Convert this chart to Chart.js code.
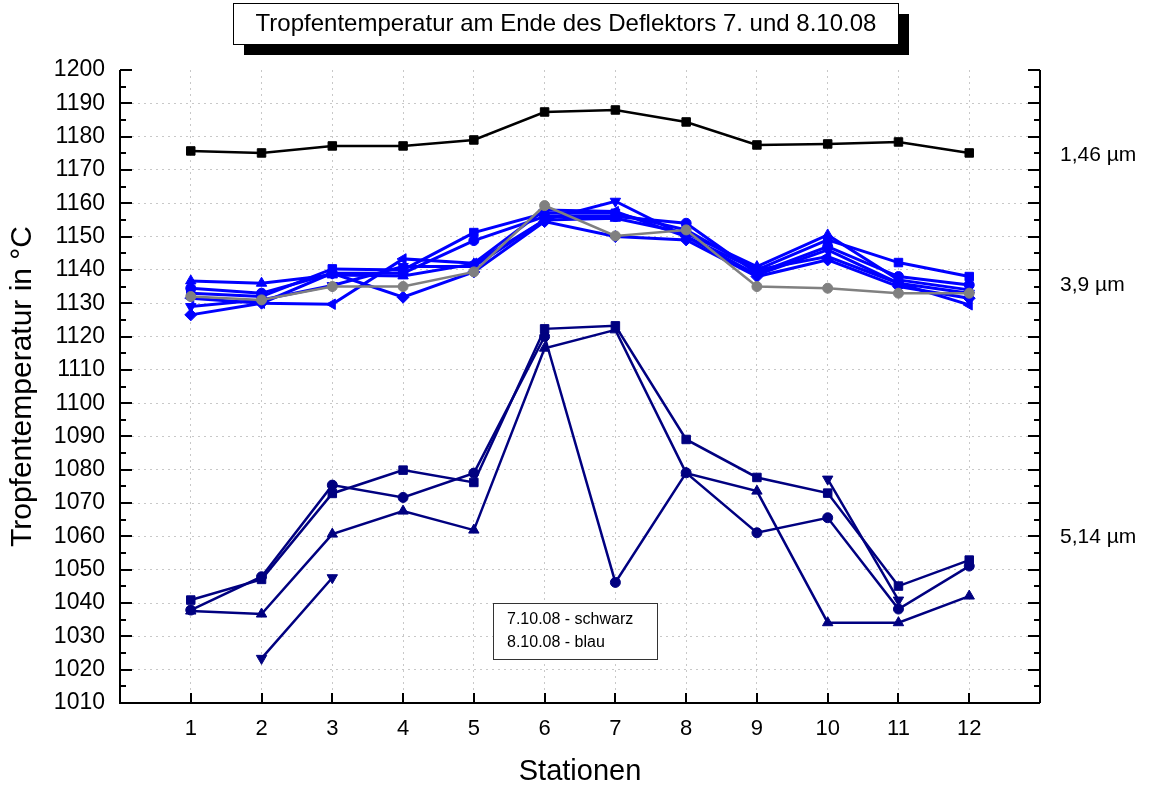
<!DOCTYPE html>
<html>
<head>
<meta charset="utf-8">
<script src="https://cdn.jsdelivr.net/npm/chart.js@4.4.1/dist/chart.umd.min.js"></script>
<style>
  html, body { margin: 0; padding: 0; background: #fff; }
  #wrap { width: 1159px; height: 789px; }
</style>
</head>
<body>
<div id="wrap"><canvas id="chart" width="1159" height="789"></canvas></div>
<script>
// Stationen 1..12
const stations = [1, 2, 3, 4, 5, 6, 7, 8, 9, 10, 11, 12];

// 7.10.08 (schwarz / grau)
const black146 = [1175.7, 1175.1, 1177.2, 1177.2, 1179.0, 1187.4, 1188.0, 1184.4, 1177.5, 1177.8, 1178.4, 1175.1];
const gray39   = [1132, 1131, 1135, 1135, 1139.4, 1159.3, 1150.2, 1152, 1135, 1134.5, 1133, 1133];

// 8.10.08, 3,9 µm (blau)
const blueSquare   = [1133, 1132, 1140.3, 1140, 1151.2, 1157, 1157, 1152, 1140, 1149, 1142.2, 1138];
const blueCircle   = [1134.5, 1133, 1139, 1139, 1148.8, 1156, 1156, 1154, 1139, 1147, 1138, 1135.5];
const blueUp       = [1136.7, 1136, 1138.5, 1138.2, 1141.8, 1155, 1155.5, 1151, 1141, 1150.5, 1137, 1134];
const blueDown     = [1129, 1131, 1135.3, 1141, 1141, 1155, 1160.6, 1150, 1138.5, 1146, 1136, 1133];
const blueDiamond  = [1126.5, 1130, 1139, 1131.8, 1139.4, 1154.5, 1150, 1149, 1138, 1143, 1135, 1131.5];
const blueLeft     = [1131.5, 1130, 1129.7, 1143.3, 1142, 1158, 1157.5, 1150, 1140, 1144, 1136, 1129.5];

// 8.10.08, 5,14 µm (dunkelblau)
const navySquare = [1040.9, 1047.1, 1072.9, 1079.9, 1076.2, 1122.3, 1123.2, 1089.1, 1077.7, 1073.0, 1045.1, 1052.9];
const navyCircle = [1037.9, 1047.9, 1075.4, 1071.7, 1079.0, 1120.0, 1046.2, 1079.1, 1061.1, 1065.6, 1038.2, 1051.1];
const navyUp     = [1037.6, 1036.7, 1060.7, 1067.6, 1061.9, 1116.5, 1122.0, 1079.0, 1073.6, 1034.1, 1034.1, 1042.1];
const navyDown   = [null, 1023.4, 1047.6, null, null, null, null, null, null, 1077.2, 1040.9, null];

// Beschriftungen rechts
const sizeLabels = ['1,46 µm', '3,9 µm', '5,14 µm'];
const sizeLabelValues = [1174.5, 1135.5, 1059.8];

const FONT = 'Liberation Sans, Arial, sans-serif';

function pts(values) {
  return stations.map((s, i) => ({ x: s, y: values[i] }));
}

function series(values, color, style, rotation, width, radius) {
  return {
    data: pts(values),
    borderColor: color,
    backgroundColor: color,
    borderWidth: width,
    pointStyle: style,
    rotation: rotation,
    pointRadius: radius,
    pointBorderWidth: 1,
    showLine: true,
    spanGaps: false,
    tension: 0
  };
}

const NAVY = '#000080';
const BLUE = '#0000ff';
const GRAY = '#808080';

const datasets = [
  series(navySquare, NAVY, 'rect', 0, 2.5, 6),
  series(navyCircle, NAVY, 'circle', 0, 2.5, 5),
  series(navyUp, NAVY, 'triangle', 0, 2.5, 6),
  series(navyDown, NAVY, 'triangle', 180, 2.5, 6),
  series(gray39, GRAY, 'circle', 0, 2.5, 5),
  series(blueSquare, BLUE, 'rect', 0, 3, 6),
  series(blueCircle, BLUE, 'circle', 0, 3, 5),
  series(blueUp, BLUE, 'triangle', 0, 3, 6),
  series(blueDown, BLUE, 'triangle', 180, 3, 6),
  series(blueDiamond, BLUE, 'rectRot', 0, 3, 6),
  series(blueLeft, BLUE, 'triangle', 270, 3, 6),
  series(black146, '#000', 'rect', 0, 2.5, 6)
];

// Achsen, Ticks nach innen, Titel- und Legendenkasten
const decorations = {
  id: 'decorations',
  afterDraw(chart) {
    const ctx = chart.ctx;
    const xs = chart.scales.x, ys = chart.scales.y;
    const a = chart.chartArea;
    ctx.save();
    ctx.strokeStyle = '#000';
    ctx.lineWidth = 2;
    ctx.beginPath();
    ctx.moveTo(a.left, a.top); ctx.lineTo(a.left, a.bottom); ctx.lineTo(a.right, a.bottom);
    ctx.moveTo(a.right, a.top); ctx.lineTo(a.right, a.bottom);
    ctx.stroke();

    ctx.beginPath();
    for (let v = 1010; v <= 1200; v += 5) {
      const y = Math.round(ys.getPixelForValue(v));
      const len = v % 10 === 0 ? 12 : 6;
      ctx.moveTo(a.left, y); ctx.lineTo(a.left + len, y);
      ctx.moveTo(a.right, y); ctx.lineTo(a.right - len, y);
    }
    stations.forEach(s => {
      const x = Math.round(xs.getPixelForValue(s));
      ctx.moveTo(x, a.bottom); ctx.lineTo(x, a.bottom - 10);
    });
    ctx.stroke();

    // Größenbeschriftung rechts
    ctx.fillStyle = '#000';
    ctx.font = '21px ' + FONT;
    ctx.textBaseline = 'middle';
    ctx.textAlign = 'left';
    sizeLabels.forEach((t, i) => {
      ctx.fillText(t, a.right + 20, ys.getPixelForValue(sizeLabelValues[i]));
    });

    // Titel mit Schatten
    ctx.fillStyle = '#000';
    ctx.fillRect(244, 14, 665, 41);
    ctx.fillStyle = '#fff';
    ctx.fillRect(233, 3, 665, 41);
    ctx.lineWidth = 1;
    ctx.strokeStyle = '#000';
    ctx.strokeRect(233.5, 3.5, 665, 41);
    ctx.fillStyle = '#000';
    ctx.font = '24px ' + FONT;
    ctx.textAlign = 'center';
    ctx.fillText('Tropfentemperatur am Ende des Deflektors 7. und 8.10.08', 566, 24);

    // Legende
    ctx.fillStyle = '#fff';
    ctx.fillRect(493, 603, 164, 56);
    ctx.strokeStyle = '#333';
    ctx.strokeRect(493.5, 603.5, 164, 56);
    ctx.fillStyle = '#000';
    ctx.font = '16px ' + FONT;
    ctx.textAlign = 'left';
    ctx.fillText('7.10.08 - schwarz', 507, 620);
    ctx.fillText('8.10.08 - blau', 507, 643);
    ctx.restore();
  }
};

const gridColor = ctx => (ctx.tick && ctx.tick.value >= 1 && ctx.tick.value <= 12) ? '#c8c8c8' : 'rgba(0,0,0,0)';
const gridColorY = ctx => (ctx.tick && ctx.tick.value > 1010 && ctx.tick.value < 1200) ? '#c8c8c8' : 'rgba(0,0,0,0)';

new Chart(document.getElementById('chart'), {
  type: 'scatter',
  data: { datasets: datasets },
  options: {
    responsive: false,
    animation: false,
    layout: { padding: { top: 70, right: 119, left: 0, bottom: 0 } },
    plugins: { legend: { display: false }, tooltip: { enabled: false } },
    scales: {
      x: {
        type: 'linear',
        min: 0, max: 13,
        afterFit(s) { s.height = 86; },
        ticks: {
          stepSize: 1,
          padding: 13,
          color: '#000',
          font: { family: FONT, size: 22 },
          callback: v => (v >= 1 && v <= 12) ? String(v) : ''
        },
        grid: { color: gridColor, lineWidth: 1, drawTicks: false },
        border: { display: false, dash: [2, 4] },
        title: { display: true, text: 'Stationen', color: '#000', font: { family: FONT, size: 29 }, padding: { top: 0, bottom: 0 } }
      },
      y: {
        min: 1010, max: 1200,
        afterFit(s) { s.width = 120; },
        ticks: {
          stepSize: 10,
          padding: 15,
          color: '#000',
          font: { family: FONT, size: 23 },
          callback: v => String(v)
        },
        grid: { color: gridColorY, lineWidth: 1, drawTicks: false },
        border: { display: false, dash: [2, 4] },
        title: { display: true, text: 'Tropfentemperatur in °C', color: '#000', font: { family: FONT, size: 30 }, padding: { top: 5, bottom: 0 } }
      }
    }
  },
  plugins: [decorations]
});
</script>
</body>
</html>
